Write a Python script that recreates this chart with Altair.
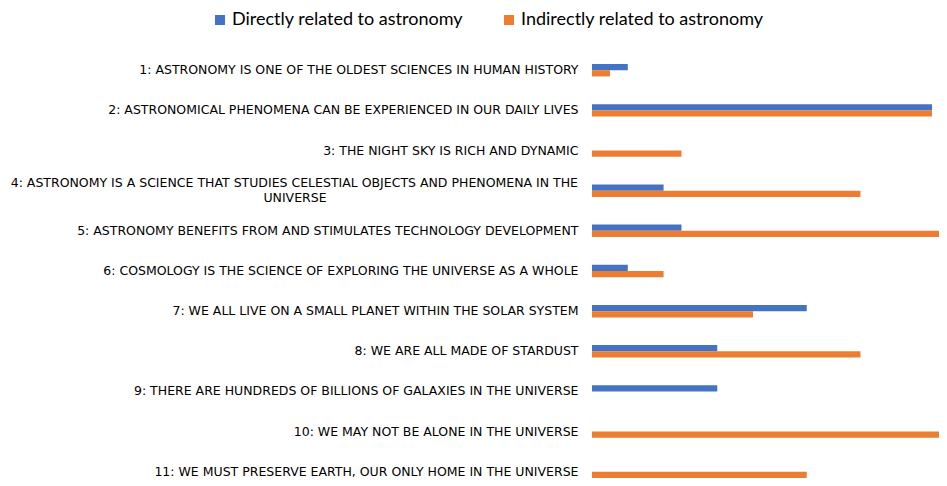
import altair as alt
import pandas as pd

categories = [
    "1: ASTRONOMY IS ONE OF THE OLDEST SCIENCES IN HUMAN HISTORY",
    "2: ASTRONOMICAL PHENOMENA CAN BE EXPERIENCED IN OUR DAILY LIVES",
    "3: THE NIGHT SKY IS RICH AND DYNAMIC",
    "4: ASTRONOMY IS A SCIENCE THAT STUDIES CELESTIAL OBJECTS AND PHENOMENA IN THE UNIVERSE",
    "5: ASTRONOMY BENEFITS FROM AND STIMULATES TECHNOLOGY DEVELOPMENT",
    "6: COSMOLOGY IS THE SCIENCE OF EXPLORING THE UNIVERSE AS A WHOLE",
    "7: WE ALL LIVE ON A SMALL PLANET WITHIN THE SOLAR SYSTEM",
    "8: WE ARE ALL MADE OF STARDUST",
    "9: THERE ARE HUNDREDS OF BILLIONS OF GALAXIES IN THE UNIVERSE",
    "10: WE MAY NOT BE ALONE IN THE UNIVERSE",
    "11: WE MUST PRESERVE EARTH, OUR ONLY HOME IN THE UNIVERSE",
]
series = ["Directly related to astronomy", "Indirectly related to astronomy"]
direct = [2, 19, 0, 4, 5, 2, 12, 7, 7, 0, 0]
indirect = [1, 19, 5, 15, 20, 4, 9, 15, 0, 20, 12]
colors = ["#4472C4", "#ED7D31"]

rows = []
for c, d, i in zip(categories, direct, indirect):
    rows.append({"cat": c, "series": series[0], "value": d})
    rows.append({"cat": c, "series": series[1], "value": i})
df = pd.DataFrame(rows)

cat4 = categories[3]
line1 = "4: ASTRONOMY IS A SCIENCE THAT STUDIES CELESTIAL OBJECTS AND PHENOMENA IN THE"
line2 = "UNIVERSE"

label_expr = f"datum.value == '{cat4}' ? '' : datum.value"
FONT = "DejaVu Sans"
FS = 12.5

y_enc = alt.Y(
    "cat:N",
    sort=categories,
    scale=alt.Scale(paddingInner=0.69, paddingOuter=0),
    axis=alt.Axis(
        title=None, domain=False, ticks=False, labelPadding=14,
        labelFont=FONT, labelFontSize=FS, labelColor="#000000",
        labelLimit=1000, labelExpr=label_expr,
    ),
)

bars = alt.Chart(df).mark_bar(clip=True).encode(
    x=alt.X("value:Q", scale=alt.Scale(domain=[0, 19.39], nice=False, zero=True), axis=None),
    y=y_enc,
    yOffset=alt.YOffset("series:N", sort=series, scale=alt.Scale(paddingInner=0, paddingOuter=0)),
    color=alt.Color(
        "series:N", sort=series,
        scale=alt.Scale(domain=series, range=colors),
        legend=alt.Legend(
            title=None, orient="none", legendX=-381, legendY=-53,
            direction="horizontal", symbolType="square", symbolSize=100,
            symbolStrokeWidth=0, symbolOpacity=1, labelFont="Lato", labelFontSize=18,
            labelColor="#000000", columnPadding=37, labelOffset=3, labelLimit=500,
        ),
    ),
)

l4 = pd.DataFrame({"cat": [cat4], "t": [line1]})
l4b = pd.DataFrame({"cat": [cat4], "t": [line2]})

extra1 = alt.Chart(l4).mark_text(
    font=FONT, fontSize=FS, color="#000000", align="right", baseline="middle", dy=-7.5
).encode(y=alt.Y("cat:N", sort=categories), x=alt.value(-14), text="t:N")

extra2 = alt.Chart(l4b).mark_text(
    font=FONT, fontSize=FS, color="#000000", align="center", baseline="middle", dy=7.5
).encode(y=alt.Y("cat:N", sort=categories), x=alt.value(-297), text="t:N")

chart = alt.layer(bars, extra1, extra2).properties(
    width=347, height=414,
    autosize=alt.AutoSizeParams(type="none"),
    padding={"left": 584, "top": 56, "right": 0, "bottom": 0},
).configure_view(stroke=None)

chart.save("out.html", embed_options={"renderer": "svg", "actions": False})
